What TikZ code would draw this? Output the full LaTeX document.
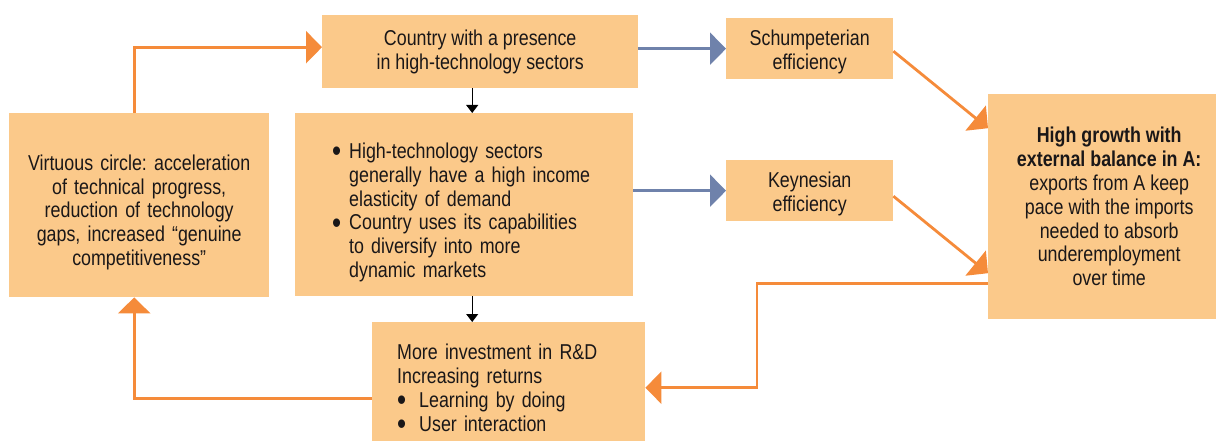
\documentclass[tikz,border=0pt]{standalone}
\usepackage{fontspec}
\setmainfont{Liberation Sans}[FakeStretch=0.83]
\usetikzlibrary{arrows.meta}
\definecolor{boxfill}{HTML}{FBC98A}
\definecolor{orangeline}{HTML}{F58B3A}
\definecolor{blueline}{HTML}{6F82AB}
\definecolor{txt}{HTML}{1A1718}
\newcommand{\bigbul}{\smash{\raisebox{-3.5pt}{\scalebox{1.45}{\textbullet}}}}
\newcommand{\toprule}[1]{\rule{0pt}{#1}}
\frenchspacing
\begin{document}
\begin{tikzpicture}[x=1pt,y=-1pt,
  box/.style={fill=boxfill, text=txt, inner sep=0pt, anchor=north west,
    font=\fontsize{21.5}{23.8}\selectfont\frenchspacing},
  orangearrow/.style={draw=orangeline, line width=2.8pt,
    -{Triangle[length=16pt,width=32pt]}},
  bluearrow/.style={draw=blueline, line width=2.7pt,
    -{Triangle[length=16pt,width=32pt]}},
  blackarrow/.style={draw=black, line width=1pt,
    -{Triangle[length=8pt,width=12pt]}}]
\useasboundingbox (0,0) rectangle (1216,441);

\node[box, minimum width=316pt, minimum height=73pt, align=center] (country) at (322,15)
  {Country with a presence\\in high-technology sectors};
\node[box, minimum width=167pt, minimum height=61pt, text width=160pt, align=center] (schump) at (726,18)
  {\toprule{22pt}Schumpeterian\\efficiency\par};
\node[box, minimum width=260pt, minimum height=184pt, text width=250pt, align=center] (virt) at (9,113)
  {\toprule{30pt}Virtuous circle: acceleration\\of technical progress,\\reduction of technology\\gaps, increased \textquotedblleft genuine\\competitiveness\textquotedblright\par};
\node[box, minimum width=338pt, minimum height=183pt, text width=264pt, align=left] (bullets) at (295,113)
  {\hangindent=17pt\hangafter=1\makebox[17pt][l]{\bigbul}\toprule{31pt}High-technology sectors\newline generally have a high income\newline elasticity of demand\par
   \hangindent=17pt\hangafter=1\makebox[17pt][l]{\bigbul}Country uses its capabilities\newline to diversify into more\newline dynamic markets\par};
\node[box, minimum width=167pt, minimum height=61pt, text width=160pt, align=center] (keynes) at (726,160)
  {\toprule{22pt}Keynesian\\efficiency\par};
\node[box, minimum width=242pt, minimum height=225pt, align=center] (hg) at (988,94)
  {\textbf{High growth with}\\\textbf{external balance in A:}\\exports from A keep\\pace with the imports\\needed to absorb\\underemployment\\over time};
\node[box, minimum width=273pt, minimum height=131pt, text width=223pt, align=left] (rd) at (372,322)
  {More investment in R\&D\newline Increasing returns\newline \makebox[22pt][l]{\bigbul}Learning by doing\newline \makebox[22pt][l]{\bigbul}User interaction\par};

% connectors
\draw[orangearrow] ([xshift=-5pt]virt.north) |- ([yshift=4.5pt]country.west);
\draw[bluearrow] (country.east |- schump.west) -- (schump.west);
\draw[blackarrow] ([xshift=-8pt]country.south) -- ([xshift=8pt]bullets.north);
\draw[bluearrow] (bullets.east |- keynes.west) -- (keynes.west);
\draw[blackarrow] ([xshift=8pt]bullets.south) -- ([xshift=-36.5pt]rd.north);
\draw[orangearrow] ([yshift=-2.5pt]schump.east) -- ([yshift=78.5pt]hg.west);
\draw[orangearrow] ([yshift=-5.5pt]keynes.east) -- ([yshift=-66.5pt]hg.west);
\draw[orangearrow] ([yshift=-76.5pt]hg.west) -- ++(-231,0) |- (rd.east);
\draw[orangearrow] ([yshift=-10.5pt]rd.west) -| ([xshift=-5pt]virt.south);
\end{tikzpicture}
\end{document}
